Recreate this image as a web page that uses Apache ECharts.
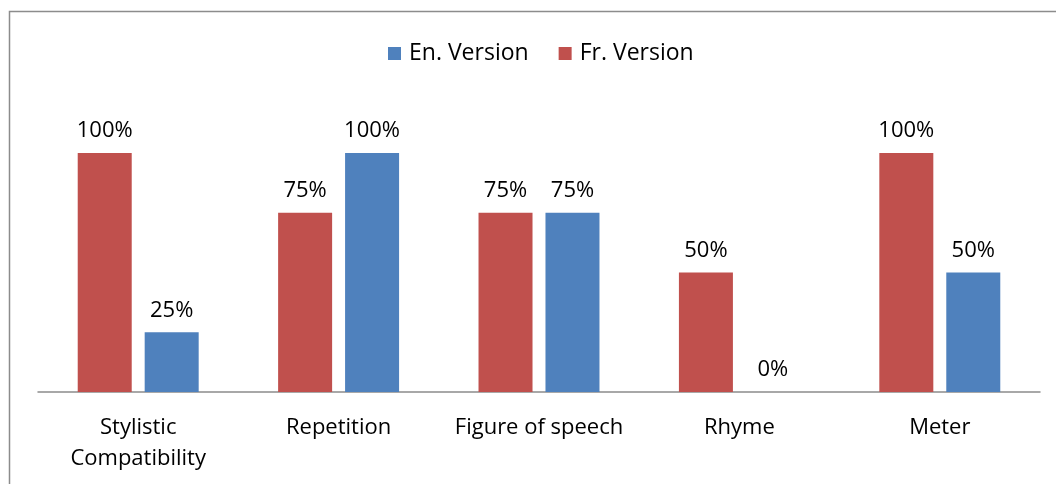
<!DOCTYPE html>
<html><head><meta charset="utf-8">
<script src="https://cdn.jsdelivr.net/npm/echarts@6/dist/echarts.min.js"></script>
<style>html,body{margin:0;padding:0;background:#fff}#c{width:1056px;height:484px}</style>
</head><body><div id="c"></div>
<script>
const categories = ['Stylistic\nCompatibility', 'Repetition', 'Figure of speech', 'Rhyme', 'Meter'];
const frValues = [100, 75, 75, 50, 100];
const enValues = [25, 100, 75, 0, 50];
const seriesNames = ['En. Version', 'Fr. Version'];

const chart = echarts.init(document.getElementById('c'));
const font = "'Open Sans', 'Noto Sans', sans-serif";
const lbl = {show: true, position: 'top', distance: 11, formatter: '{c}%', color: '#000', fontSize: 22, fontFamily: font};
chart.setOption({
  animation: false,
  graphic: [{type: 'rect', shape: {x: 9.5, y: 11.5, width: 1100, height: 600}, style: {fill: 'none', stroke: '#8c8c8c', lineWidth: 1.5}, z: -1}],
  legend: {
    data: seriesNames, top: 37, left: 383, itemWidth: 13, itemHeight: 13, itemGap: 30,
    icon: 'rect', textStyle: {fontSize: 23, fontFamily: font, color: '#000', padding: [0, 0, 0, 3]}
  },
  grid: {left: 38, right: 16, top: 153, bottom: 92},
  xAxis: {
    type: 'category', data: categories,
    axisLine: {lineStyle: {color: '#8c8c8c', width: 1.5}}, axisTick: {show: false},
    axisLabel: {color: '#000', fontSize: 22, fontFamily: font, margin: 20, lineHeight: 31, interval: 0}
  },
  yAxis: {type: 'value', min: 0, max: 100, show: false, splitLine: {show: false}},
  series: [
    {name: 'Fr. Version', type: 'bar', data: frValues, itemStyle: {color: '#c0504d'}, barWidth: 54, barGap: '24%', label: lbl},
    {name: 'En. Version', type: 'bar', data: enValues, itemStyle: {color: '#4f81bd'}, barWidth: 54, barGap: '24%', label: lbl}
  ]
});
</script></body></html>
